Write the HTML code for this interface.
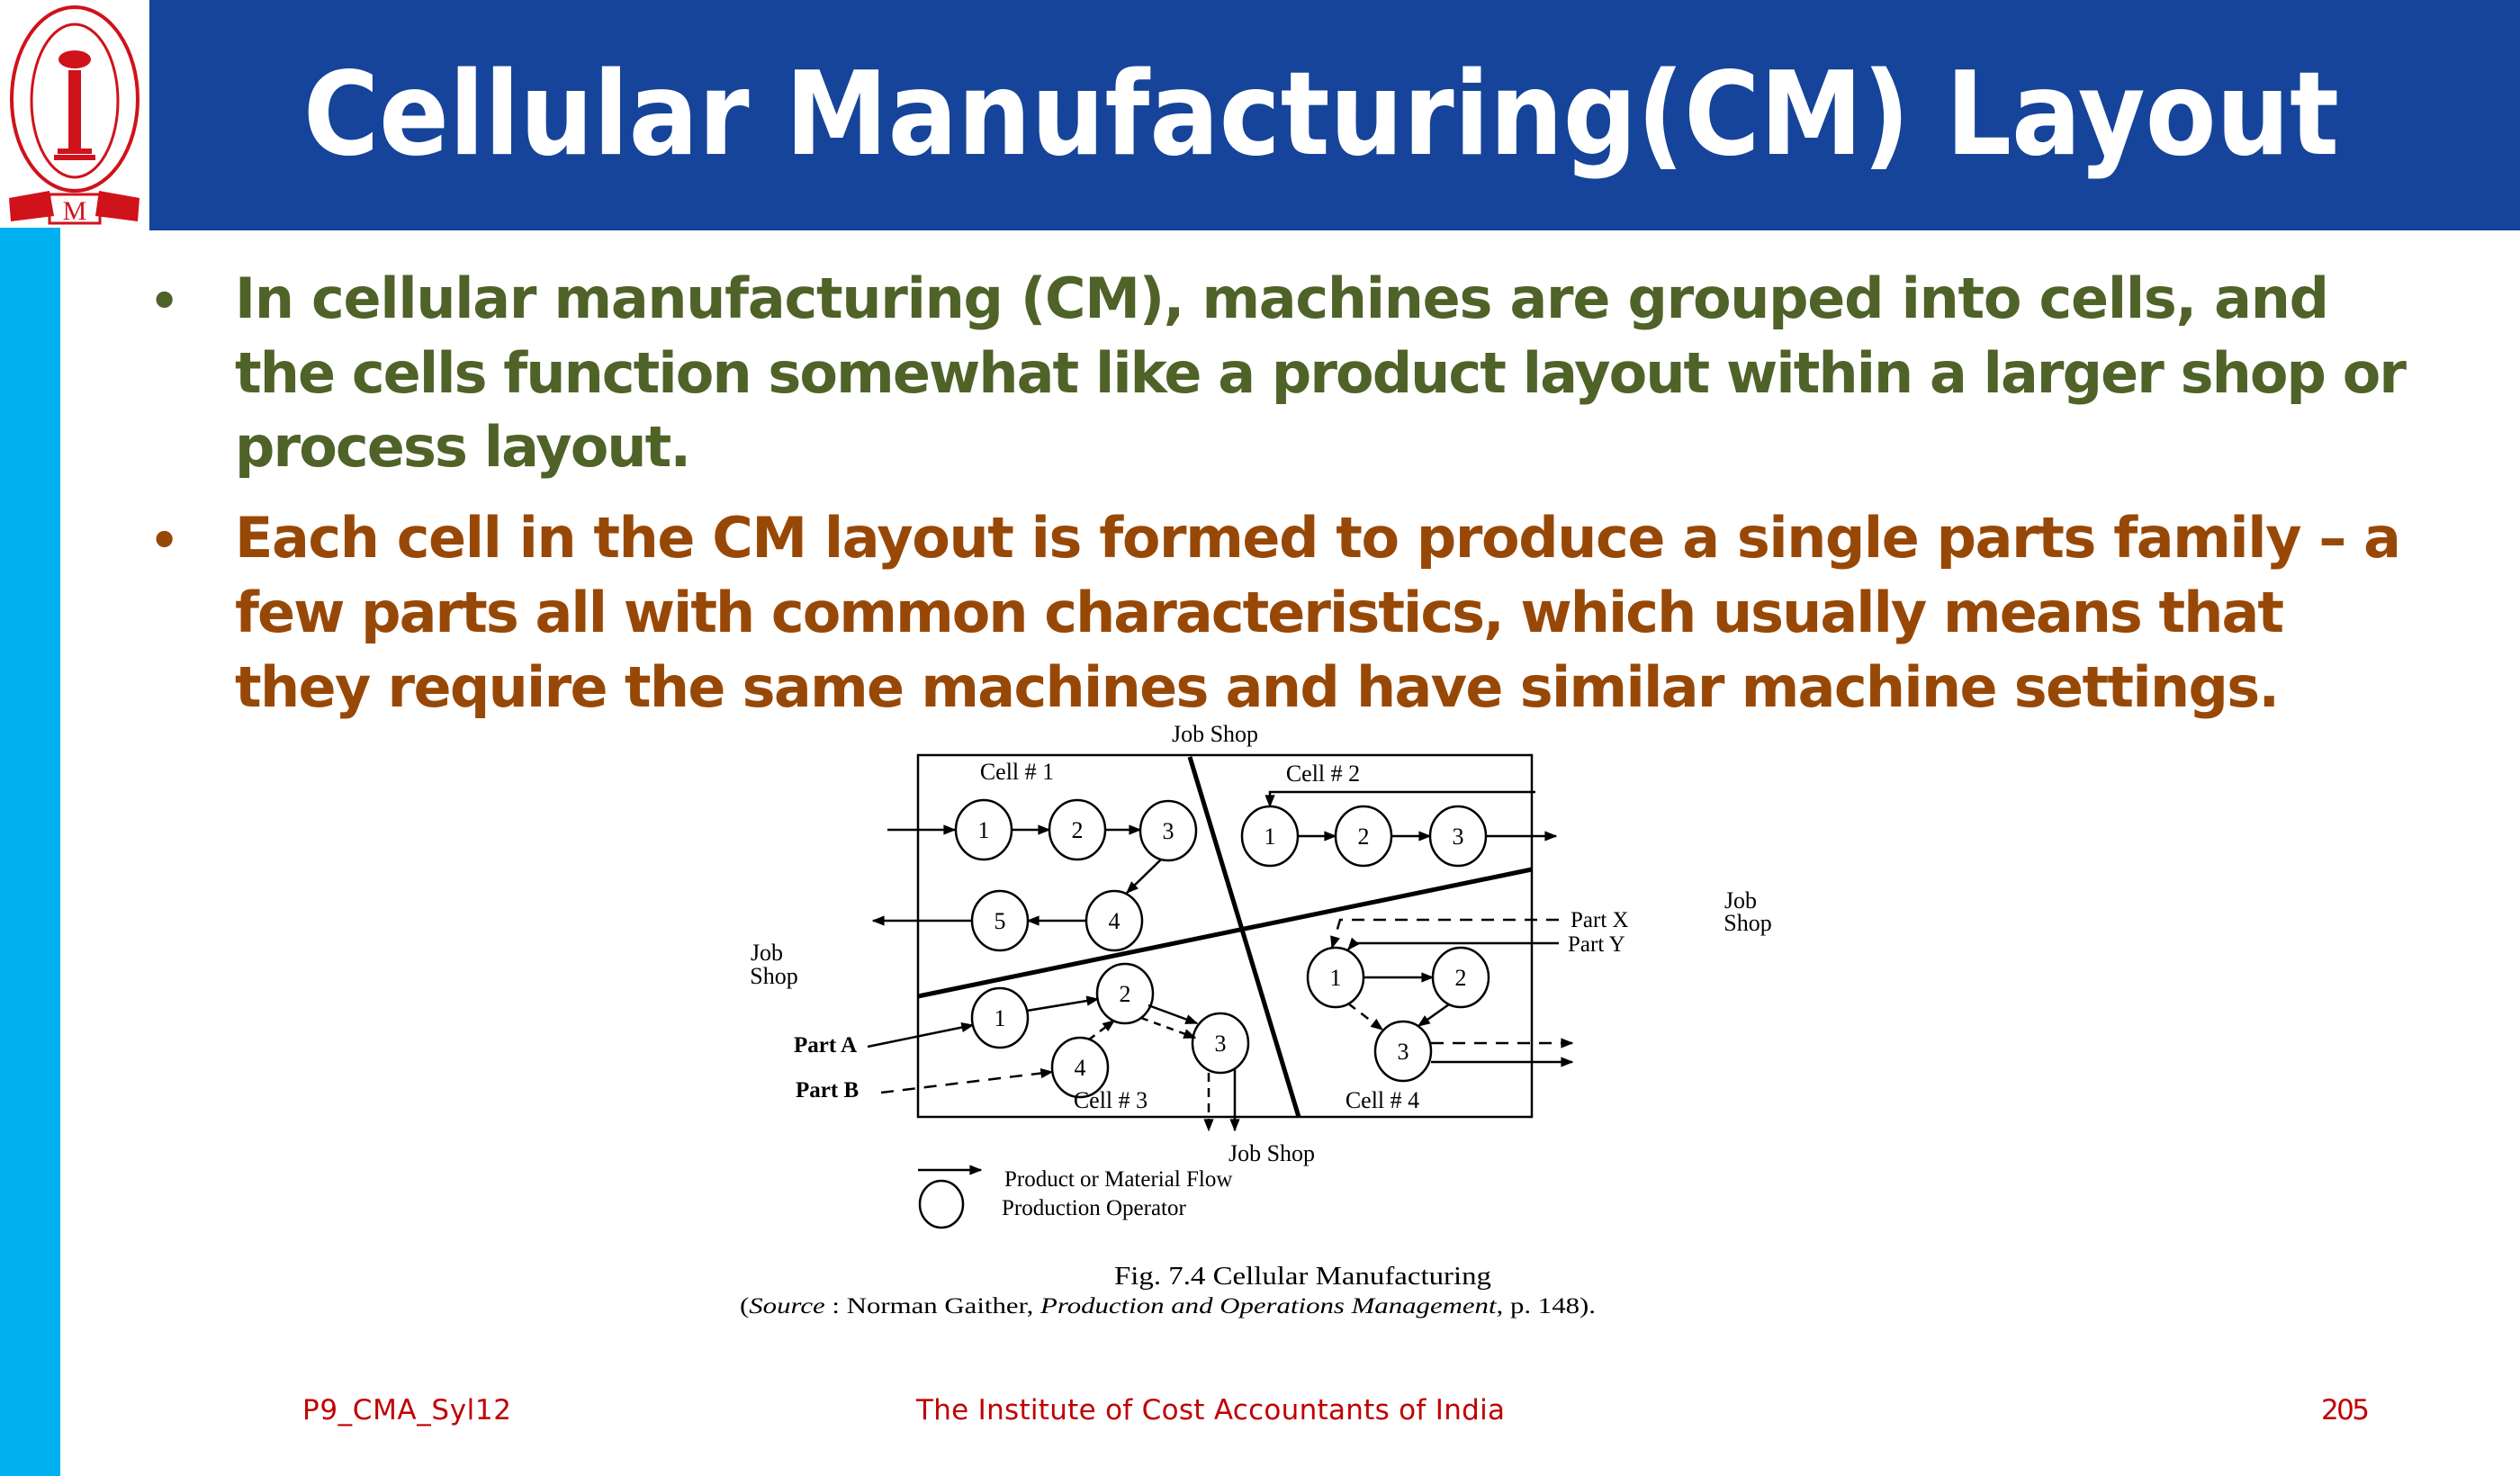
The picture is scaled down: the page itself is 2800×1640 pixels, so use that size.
<!DOCTYPE html>
<html><head><meta charset="utf-8"><style>
html,body{margin:0;padding:0;background:#fff;}
svg{display:block;}
</style></head><body>
<svg width="2800" height="1640" viewBox="0 0 2800 1640" xmlns="http://www.w3.org/2000/svg">
<defs>
<marker id="ah" viewBox="0 0 10 10" refX="9" refY="5" markerWidth="16" markerHeight="14" orient="auto" markerUnits="userSpaceOnUse"><path d="M0,1 L10,5 L0,9 z" fill="#000"/></marker>
</defs>
<rect width="2800" height="1640" fill="#fff"/>
<!-- header -->
<rect x="166" y="0" width="2634" height="256" fill="#15449A"/>
<rect x="0" y="253" width="67" height="1387" fill="#00B0F0"/>
<!-- logo -->
<g fill="none" stroke="#D0121B">
<ellipse cx="83" cy="110" rx="70" ry="102" stroke-width="4"/>
<ellipse cx="83" cy="112" rx="48" ry="85" stroke-width="3"/>
</g>
<g fill="#D0121B">
<rect x="76" y="78" width="14" height="92"/>
<rect x="64" y="165" width="38" height="6"/>
<rect x="60" y="172" width="46" height="6"/>
<ellipse cx="83" cy="66" rx="18" ry="10"/>
<path d="M10,220 L55,212 L60,240 L12,246 z"/>
<path d="M110,212 L155,220 L153,246 L106,240 z"/>
<rect x="55" y="216" width="56" height="32" fill="none" stroke="#D0121B" stroke-width="3"/>
<text x="83" y="244" font-family="Liberation Serif,serif" font-size="30" text-anchor="middle">M</text>
</g>
<text x="1468" y="171" font-family="DejaVu Sans,sans-serif" font-weight="bold" font-size="128" fill="#fff" textLength="2262" lengthAdjust="spacingAndGlyphs" text-anchor="middle">Cellular Manufacturing(CM) Layout</text>
<!-- bullets -->
<g font-family="DejaVu Sans,sans-serif" font-weight="bold" font-size="62" lengthAdjust="spacingAndGlyphs">
<g fill="#4F6228">
<text x="166" y="352" font-size="52">•</text>
<text x="261" y="353" textLength="2327">In cellular manufacturing (CM), machines are grouped into cells, and</text>
<text x="261" y="436" textLength="2413">the cells function somewhat like a product layout within a larger shop or</text>
<text x="261" y="518" textLength="507">process layout.</text>
</g>
<g fill="#984806">
<text x="166" y="618" font-size="52">•</text>
<text x="261" y="619" textLength="2407">Each cell in the CM layout is formed to produce a single parts family – a</text>
<text x="261" y="702" textLength="2277">few parts all with common characteristics, which usually means that</text>
<text x="261" y="785" textLength="2272">they require the same machines and have similar machine settings.</text>
</g>
</g>
<!-- diagram -->
<g stroke="#000" fill="none" stroke-width="2.5">
<rect x="1020" y="839" width="682" height="402"/>
<line x1="1322" y1="841" x2="1443" y2="1241" stroke-width="5"/>
<line x1="1020" y1="1107" x2="1702" y2="966" stroke-width="5"/>
</g>
<g stroke="#000" fill="#fff" stroke-width="2.5">
<ellipse cx="1093" cy="922" rx="31" ry="33"/>
<ellipse cx="1197" cy="922" rx="31" ry="33"/>
<ellipse cx="1298" cy="923" rx="31" ry="33"/>
<ellipse cx="1238" cy="1023" rx="31" ry="33"/>
<ellipse cx="1111" cy="1023" rx="31" ry="33"/>
<ellipse cx="1411" cy="929" rx="31" ry="33"/>
<ellipse cx="1515" cy="929" rx="31" ry="33"/>
<ellipse cx="1620" cy="929" rx="31" ry="33"/>
<ellipse cx="1484" cy="1086" rx="31" ry="33"/>
<ellipse cx="1623" cy="1086" rx="31" ry="33"/>
<ellipse cx="1559" cy="1168" rx="31" ry="33"/>
<ellipse cx="1111" cy="1131" rx="31" ry="33"/>
<ellipse cx="1250" cy="1104" rx="31" ry="33"/>
<ellipse cx="1356" cy="1159" rx="31" ry="33"/>
<ellipse cx="1200" cy="1186" rx="31" ry="33"/>
</g>
<g stroke="#000" fill="none" stroke-width="2.5">
<line x1="986" y1="922" x2="1061" y2="922" marker-end="url(#ah)"/>
<line x1="1124" y1="922" x2="1166" y2="922" marker-end="url(#ah)"/>
<line x1="1228" y1="922" x2="1267" y2="922" marker-end="url(#ah)"/>
<line x1="1290" y1="955" x2="1252" y2="992" marker-end="url(#ah)"/>
<line x1="1207" y1="1023" x2="1142" y2="1023" marker-end="url(#ah)"/>
<line x1="1080" y1="1023" x2="970" y2="1023" marker-end="url(#ah)"/>
<polyline points="1706,880 1411,880 1411,896" marker-end="url(#ah)"/>
<line x1="1442" y1="929" x2="1484" y2="929" marker-end="url(#ah)"/>
<line x1="1546" y1="929" x2="1589" y2="929" marker-end="url(#ah)"/>
<line x1="1651" y1="929" x2="1729" y2="929" marker-end="url(#ah)"/>
<polyline points="1732,1022 1489,1022 1480,1053" stroke-dasharray="14,10" marker-end="url(#ah)"/>
<polyline points="1732,1048 1504,1048 1498,1055" marker-end="url(#ah)"/>
<line x1="1515" y1="1086" x2="1592" y2="1086" marker-end="url(#ah)"/>
<line x1="1610" y1="1116" x2="1576" y2="1140" marker-end="url(#ah)"/>
<line x1="1498" y1="1115" x2="1536" y2="1144" stroke-dasharray="10,8" marker-end="url(#ah)"/>
<line x1="1590" y1="1159" x2="1747" y2="1159" stroke-dasharray="14,10" marker-end="url(#ah)"/>
<line x1="1590" y1="1180" x2="1747" y2="1180" marker-end="url(#ah)"/>
<line x1="964" y1="1163" x2="1081" y2="1139" marker-end="url(#ah)"/>
<line x1="1141" y1="1123" x2="1220" y2="1110" marker-end="url(#ah)"/>
<line x1="979" y1="1214" x2="1169" y2="1191" stroke-dasharray="14,10" marker-end="url(#ah)"/>
<line x1="1210" y1="1155" x2="1238" y2="1134" stroke-dasharray="8,7" marker-end="url(#ah)"/>
<line x1="1276" y1="1117" x2="1330" y2="1137" marker-end="url(#ah)"/>
<line x1="1268" y1="1131" x2="1328" y2="1153" stroke-dasharray="8,7" marker-end="url(#ah)"/>
<line x1="1343" y1="1192" x2="1343" y2="1256" stroke-dasharray="10,7" marker-end="url(#ah)"/>
<line x1="1372" y1="1188" x2="1372" y2="1256" marker-end="url(#ah)"/>
<line x1="1020" y1="1300" x2="1090" y2="1300" marker-end="url(#ah)"/>
<ellipse cx="1046" cy="1338" rx="24" ry="26"/>
</g>
<g font-family="Liberation Serif,serif" font-size="26" fill="#000" text-anchor="middle">
<text x="1093" y="931">1</text><text x="1197" y="931">2</text><text x="1298" y="932">3</text>
<text x="1238" y="1032">4</text><text x="1111" y="1032">5</text>
<text x="1411" y="938">1</text><text x="1515" y="938">2</text><text x="1620" y="938">3</text>
<text x="1484" y="1095">1</text><text x="1623" y="1095">2</text><text x="1559" y="1177">3</text>
<text x="1111" y="1140">1</text><text x="1250" y="1113">2</text><text x="1356" y="1168">3</text><text x="1200" y="1195">4</text>
<text x="1350" y="824">Job Shop</text>
<text x="1130" y="866">Cell # 1</text>
<text x="1470" y="868">Cell # 2</text>
<text x="1234" y="1231">Cell # 3</text>
<text x="1536" y="1231">Cell # 4</text>
<text x="852" y="1067">Job</text><text x="860" y="1093">Shop</text>
<text x="1934" y="1009">Job</text><text x="1942" y="1034">Shop</text>
<text x="1413" y="1290">Job Shop</text>
</g>
<g font-family="Liberation Serif,serif" font-size="25" fill="#000">
<text x="882" y="1169" font-weight="bold">Part A</text>
<text x="884" y="1219" font-weight="bold">Part B</text>
<text x="1745" y="1030">Part X</text>
<text x="1742" y="1057">Part Y</text>
<text x="1116" y="1318">Product or Material Flow</text>
<text x="1113" y="1350">Production Operator</text>
<text x="1238" y="1427" font-size="28" textLength="419" lengthAdjust="spacingAndGlyphs">Fig. 7.4  Cellular Manufacturing</text>
<text x="822" y="1459" textLength="951" lengthAdjust="spacingAndGlyphs">(<tspan font-style="italic">Source</tspan> :  Norman Gaither, <tspan font-style="italic">Production and Operations Management</tspan>, p. 148).</text>
</g>
<g font-family="DejaVu Sans,sans-serif" font-size="31" fill="#C00000" lengthAdjust="spacingAndGlyphs">
<text x="336" y="1577" textLength="232">P9_CMA_Syl12</text>
<text x="1018" y="1577" textLength="654">The Institute of Cost Accountants of India</text>
<text x="2579" y="1577" textLength="54">205</text>
</g>
</svg>
</body></html>
